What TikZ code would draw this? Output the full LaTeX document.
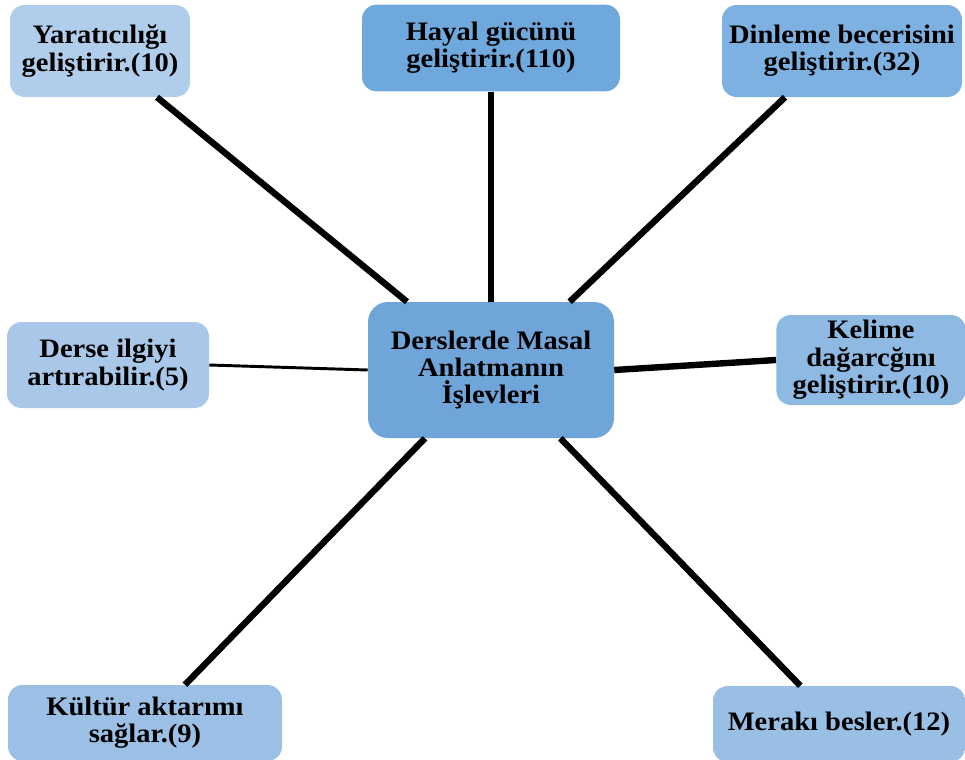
\documentclass[tikz,border=0pt]{standalone}
\usepackage{fontspec}
\setmainfont[FakeStretch=1.07]{Liberation Serif}
\usepackage{xcolor}
\definecolor{palebox}{HTML}{B0CDEB}
\definecolor{darkbox}{HTML}{6FA8DC}
\definecolor{midbox}{HTML}{7DB1E1}
\definecolor{corebox}{HTML}{6FA5D9}
\definecolor{softbox}{HTML}{A9C8E9}
\definecolor{skybox}{HTML}{8DB9E3}
\definecolor{lowbox}{HTML}{9BBFE5}

\begin{document}
\begin{tikzpicture}[x=0.75pt, y=-0.75pt]
% Define styles
\tikzstyle{leaf} = [rectangle, rounded corners=11pt, text centered, align=center, inner sep=2pt, font=\fontsize{20}{20.5}\selectfont\bfseries]
\tikzstyle{core} = [rectangle, rounded corners=15pt, text centered, align=center, fill=corebox, minimum width=184.5pt, minimum height=102pt, font=\fontsize{20}{20.5}\selectfont\bfseries]
\tikzstyle{spoke} = [line width=4.8pt]
\tikzstyle{thinspoke} = [line width=2.2pt]

\useasboundingbox (0,0) rectangle (965,760);

% Place nodes
\node [core] (core) at (491,370) {Derslerde Masal\\Anlatmanın\\İşlevleri};
\node [leaf, fill=palebox, minimum width=135pt, minimum height=69pt] (create) at (100,51) {Yaratıcılığı\\geliştirir.(10)};
\node [leaf, fill=darkbox, minimum width=193.5pt, minimum height=65pt] (imagine) at (491,48) {Hayal gücünü\\geliştirir.(110)};
\node [leaf, fill=midbox, minimum width=180pt, minimum height=69pt] (listen) at (842,51) {Dinleme becerisini\\geliştirir.(32)};
\node [leaf, fill=softbox, minimum width=151.5pt, minimum height=64.5pt] (interest) at (108,365) {Derse ilgiyi\\artırabilir.(5)};
\node [leaf, fill=skybox, minimum width=142pt, minimum height=67.5pt] (words) at (871,360) {Kelime\\dağarcğını\\geliştirir.(10)};
\node [leaf, fill=lowbox, minimum width=205.5pt, minimum height=57pt] (culture) at (145,723) {Kültür aktarımı\\sağlar.(9)};
\node [leaf, fill=lowbox!95!skybox, minimum width=189pt, minimum height=57pt] (curious) at (839,724) {Merakı besler.(12)};

% Draw lines
\draw [spoke] ([xshift=42.75pt]create.south) -- ([xshift=-63pt]core.north);
\draw [spoke] (imagine.south) -- (core.north);
\draw [spoke] ([xshift=-42.75pt]listen.south) -- ([xshift=59pt]core.north);
\draw [thinspoke] (interest.east) -- (core.west);
\draw [spoke] (core.east) -- (words.west);
\draw [spoke] ([xshift=30pt]culture.north) -- ([xshift=-49.5pt]core.south);
\draw [spoke] ([xshift=-29pt]curious.north) -- ([xshift=52pt]core.south);
\end{tikzpicture}
\end{document}
